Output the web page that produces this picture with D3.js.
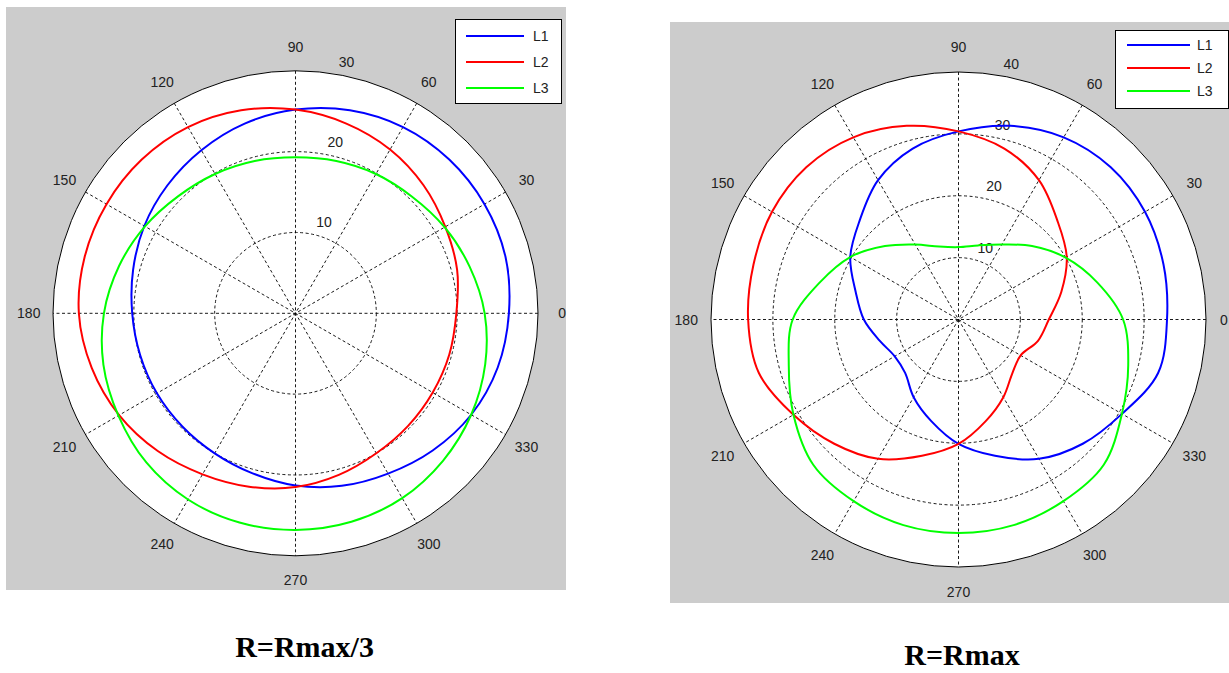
<!DOCTYPE html>
<html>
<head>
<meta charset="utf-8">
<script src="https://cdn.jsdelivr.net/npm/d3@7/dist/d3.min.js"></script>
<style>
  html, body { margin: 0; padding: 0; background: #ffffff; }
  svg { display: block; }
</style>
</head>
<body>
<svg id="chart" width="1229" height="673"></svg>
<script>
// Sample angles (degrees, counter-clockwise from the 0 direction)
const angles = [0, 15, 30, 45, 60, 75, 90, 105, 120, 135, 150, 165,
                180, 195, 210, 225, 240, 255, 270, 285, 300, 315, 330, 345];

// Series names
const seriesNames = ["L1", "L2", "L3"];

// R = Rmax/3 : radius values per angle
const leftL1 = [26.4, 26.9, 27.0, 26.9, 26.6, 26.0, 25.2, 24.3, 23.3, 22.4, 21.6, 20.8,
                20.2, 19.9, 19.8, 19.8, 20.0, 20.5, 21.3, 22.1, 22.9, 24.0, 25.1, 25.9];
const leftL2 = [19.9, 20.7, 21.4, 22.4, 23.4, 24.3, 25.2, 26.0, 26.6, 26.9, 27.0, 27.0,
                26.8, 26.1, 25.2, 24.1, 23.0, 22.2, 21.5, 20.7, 20.0, 19.7, 19.6, 19.7];
const leftL3 = [23.4, 22.3, 21.3, 20.4, 19.9, 19.5, 19.3, 19.5, 19.9, 20.5, 21.5, 22.6,
                23.7, 24.6, 25.3, 26.1, 26.6, 26.8, 26.8, 26.7, 26.4, 25.8, 25.1, 24.3];

// R = Rmax : radius values per angle
const rightL1 = [33.7, 34.3, 34.8, 34.8, 34.0, 32.4, 30.4, 28.6, 26.0, 22.6, 20.2, 17.2,
                 15.3, 13.2, 11.9, 12.2, 14.5, 17.0, 20.1, 22.8, 26.0, 28.4, 30.5, 33.4];
const rightL2 = [14.6, 17.2, 20.2, 22.6, 26.0, 28.6, 30.4, 32.4, 34.0, 34.8, 34.8, 34.3,
                 34.0, 33.4, 30.8, 28.4, 26.0, 22.8, 20.1, 17.0, 14.5, 12.3, 11.6, 13.3];
const rightL3 = [26.6, 23.2, 20.0, 16.8, 14.0, 12.4, 11.7, 12.2, 14.0, 16.8, 20.2, 23.2,
                 26.8, 28.4, 30.8, 33.2, 33.9, 34.4, 34.5, 34.4, 33.9, 33.2, 30.5, 28.4];

// Axis ticks
const spokeAngles = [0, 30, 60, 90, 120, 150];
const angleTickLabels = ["0", "30", "60", "90", "120", "150", "180", "210", "240", "270", "300", "330"];
const leftRingTicks = [10, 20, 30];
const rightRingTicks = [10, 20, 30, 40];

// Captions
const captions = ["R=Rmax/3", "R=Rmax"];

const colors = ["#0000ff", "#ff0000", "#00ff00"];
const svgWidth = 1229;
const svg = d3.select("#chart");
const rad = d => d * Math.PI / 180;
const tickFont = "'Liberation Sans', Arial, sans-serif";

function drawPolar(cfg) {
  const g = svg.append("g");

  // gray figure panel
  g.append("rect")
    .attr("x", cfg.panel.x).attr("y", cfg.panel.y)
    .attr("width", cfg.panel.w).attr("height", cfg.panel.h)
    .attr("fill", "#cccccc");

  const r = d3.scaleLinear().domain([0, cfg.rmax]).range([0, cfg.R]);
  const plot = g.append("g").attr("transform", `translate(${cfg.cx},${cfg.cy})`);

  // white polar disc
  plot.append("circle").attr("r", cfg.R).attr("fill", "#ffffff");

  // dashed range rings (outer ring drawn solid below)
  plot.selectAll("circle.ring")
    .data(cfg.rings.filter(v => v < cfg.rmax))
    .join("circle")
    .attr("class", "ring")
    .attr("r", d => r(d))
    .attr("fill", "none")
    .attr("stroke", "#000")
    .attr("stroke-width", 0.9)
    .attr("stroke-dasharray", "3,2.5");

  // dashed spokes through the centre
  plot.selectAll("line.spoke")
    .data(spokeAngles)
    .join("line")
    .attr("class", "spoke")
    .attr("x1", d => r(cfg.rmax) * Math.cos(rad(d)))
    .attr("y1", d => -r(cfg.rmax) * Math.sin(rad(d)))
    .attr("x2", d => -r(cfg.rmax) * Math.cos(rad(d)))
    .attr("y2", d => r(cfg.rmax) * Math.sin(rad(d)))
    .attr("stroke", "#000")
    .attr("stroke-width", 0.9)
    .attr("stroke-dasharray", "3,2.5");

  // solid outer circle
  plot.append("circle")
    .attr("r", r(cfg.rmax))
    .attr("fill", "none")
    .attr("stroke", "#000")
    .attr("stroke-width", 1);

  // angle labels just outside the disc; kept inside the page on the right
  const angX = d => 1.1 * r(cfg.rmax) * Math.cos(rad(+d));
  plot.selectAll("text.ang")
    .data(angleTickLabels)
    .join("text")
    .attr("class", "ang")
    .attr("x", d => Math.min(angX(d), svgWidth - 5 - cfg.cx))
    .attr("y", d => -1.1 * r(cfg.rmax) * Math.sin(rad(+d)))
    .attr("text-anchor", "middle")
    .attr("dominant-baseline", "central")
    .attr("font-family", tickFont)
    .attr("font-size", 14)
    .attr("fill", "#222")
    .text(d => d);

  // range labels along the 82 degree direction
  const rinc = cfg.rings[1] - cfg.rings[0];
  plot.selectAll("text.rng")
    .data(cfg.rings)
    .join("text")
    .attr("class", "rng")
    .attr("x", d => r(d + rinc / 20) * Math.cos(rad(82)) + cfg.labelPad)
    .attr("y", d => -r(d + rinc / 20) * Math.sin(rad(82)) - 2.5)
    .attr("text-anchor", "start")
    .attr("font-family", tickFont)
    .attr("font-size", 14)
    .attr("fill", "#222")
    .text(d => d);

  // data curves
  const line = d3.lineRadial()
    .angle(d => rad(90 - d.a))
    .radius(d => r(d.v))
    .curve(d3.curveCatmullRomClosed.alpha(0.5));

  cfg.series.forEach((vals, i) => {
    const pts = angles.map((a, k) => ({ a: a, v: vals[k] }));
    plot.append("path")
      .datum(pts)
      .attr("d", line)
      .attr("fill", "none")
      .attr("stroke", colors[i])
      .attr("stroke-width", 2);
  });

  // legend
  const lg = g.append("g");
  lg.append("rect")
    .attr("x", cfg.legend.x + 0.5).attr("y", cfg.legend.y + 0.5)
    .attr("width", cfg.legend.w).attr("height", cfg.legend.h)
    .attr("fill", "#ffffff").attr("stroke", "#000").attr("stroke-width", 1);
  seriesNames.forEach((name, i) => {
    const y = cfg.legend.rows[i];
    lg.append("line")
      .attr("x1", cfg.legend.lx1).attr("x2", cfg.legend.lx2)
      .attr("y1", y).attr("y2", y)
      .attr("stroke", colors[i]).attr("stroke-width", 2);
    lg.append("text")
      .attr("x", cfg.legend.tx).attr("y", y)
      .attr("dominant-baseline", "central")
      .attr("font-family", tickFont)
      .attr("font-size", 14)
      .attr("fill", "#222")
      .text(name);
  });

  // caption under the panel
  svg.append("text")
    .attr("x", cfg.caption.x).attr("y", cfg.caption.y)
    .attr("text-anchor", "middle")
    .attr("font-family", "'Liberation Serif', 'Times New Roman', serif")
    .attr("font-weight", "bold")
    .attr("font-size", 30)
    .attr("fill", "#000")
    .text(cfg.caption.text);
}

drawPolar({
  panel: { x: 6, y: 7, w: 560, h: 583 },
  cx: 295.5, cy: 313.3, R: 242.5, rmax: 30,
  rings: leftRingTicks, labelPad: 9,
  series: [leftL1, leftL2, leftL3],
  legend: { x: 455, y: 19, w: 106, h: 84, lx1: 466, lx2: 524, tx: 533, rows: [36, 62, 88] },
  caption: { text: captions[0], x: 304.5, y: 657 }
});

drawPolar({
  panel: { x: 670, y: 22, w: 570, h: 581 },
  cx: 958.5, cy: 319.5, R: 247.5, rmax: 40,
  rings: rightRingTicks, labelPad: 10,
  series: [rightL1, rightL2, rightL3],
  legend: { x: 1115, y: 30, w: 113, h: 78, lx1: 1127, lx2: 1190, tx: 1197, rows: [45, 68, 91] },
  caption: { text: captions[1], x: 962, y: 665 }
});
</script>
</body>
</html>
